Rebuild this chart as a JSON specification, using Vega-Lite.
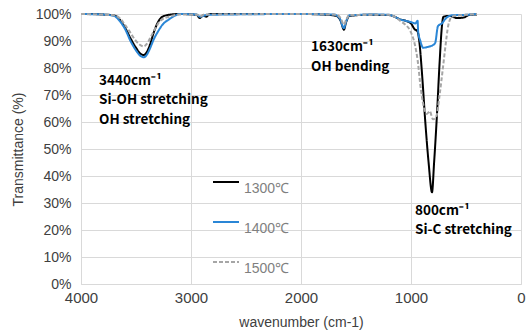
{
  "$schema": "https://vega.github.io/schema/vega-lite/v6.json",
  "width": 440,
  "height": 270,
  "autosize": {"type": "none"},
  "padding": {"left": 81, "top": 14, "right": 7, "bottom": 49},
  "background": "white",
  "config": {
    "view": {"stroke": null},
    "font": "Liberation Sans"
  },
  "datasets": {
    "spectra": [
      {"wn": 4000, "T": 1.0, "s": "1300℃"}, {"wn": 3900, "T": 1.0, "s": "1300℃"}, {"wn": 3800, "T": 0.998, "s": "1300℃"}, {"wn": 3700, "T": 0.995, "s": "1300℃"}, {"wn": 3650, "T": 0.98, "s": "1300℃"}, {"wn": 3600, "T": 0.95, "s": "1300℃"}, {"wn": 3550, "T": 0.91, "s": "1300℃"}, {"wn": 3500, "T": 0.875, "s": "1300℃"}, {"wn": 3460, "T": 0.853, "s": "1300℃"}, {"wn": 3430, "T": 0.848, "s": "1300℃"}, {"wn": 3400, "T": 0.86, "s": "1300℃"}, {"wn": 3370, "T": 0.89, "s": "1300℃"}, {"wn": 3340, "T": 0.93, "s": "1300℃"}, {"wn": 3300, "T": 0.97, "s": "1300℃"}, {"wn": 3260, "T": 0.99, "s": "1300℃"}, {"wn": 3200, "T": 0.997, "s": "1300℃"}, {"wn": 3100, "T": 1.0, "s": "1300℃"}, {"wn": 2950, "T": 0.997, "s": "1300℃"}, {"wn": 2920, "T": 0.985, "s": "1300℃"}, {"wn": 2890, "T": 0.995, "s": "1300℃"}, {"wn": 2860, "T": 0.99, "s": "1300℃"}, {"wn": 2830, "T": 1.0, "s": "1300℃"}, {"wn": 2000, "T": 1.0, "s": "1300℃"}, {"wn": 1800, "T": 0.998, "s": "1300℃"}, {"wn": 1680, "T": 0.993, "s": "1300℃"}, {"wn": 1640, "T": 0.975, "s": "1300℃"}, {"wn": 1610, "T": 0.942, "s": "1300℃"}, {"wn": 1590, "T": 0.97, "s": "1300℃"}, {"wn": 1560, "T": 0.993, "s": "1300℃"}, {"wn": 1400, "T": 0.997, "s": "1300℃"}, {"wn": 1200, "T": 0.996, "s": "1300℃"}, {"wn": 1150, "T": 0.99, "s": "1300℃"}, {"wn": 1100, "T": 0.98, "s": "1300℃"}, {"wn": 1050, "T": 0.975, "s": "1300℃"}, {"wn": 1000, "T": 0.965, "s": "1300℃"}, {"wn": 970, "T": 0.945, "s": "1300℃"}, {"wn": 940, "T": 0.935, "s": "1300℃"}, {"wn": 925, "T": 0.9, "s": "1300℃"}, {"wn": 900, "T": 0.78, "s": "1300℃"}, {"wn": 870, "T": 0.6, "s": "1300℃"}, {"wn": 840, "T": 0.45, "s": "1300℃"}, {"wn": 809, "T": 0.34, "s": "1300℃"}, {"wn": 790, "T": 0.45, "s": "1300℃"}, {"wn": 765, "T": 0.62, "s": "1300℃"}, {"wn": 740, "T": 0.82, "s": "1300℃"}, {"wn": 720, "T": 0.95, "s": "1300℃"}, {"wn": 705, "T": 0.99, "s": "1300℃"}, {"wn": 650, "T": 0.993, "s": "1300℃"}, {"wn": 580, "T": 0.985, "s": "1300℃"}, {"wn": 520, "T": 0.987, "s": "1300℃"}, {"wn": 470, "T": 0.997, "s": "1300℃"}, {"wn": 400, "T": 0.998, "s": "1300℃"},

      {"wn": 4000, "T": 1.0, "s": "1400℃"}, {"wn": 3800, "T": 0.998, "s": "1400℃"}, {"wn": 3700, "T": 0.993, "s": "1400℃"}, {"wn": 3650, "T": 0.975, "s": "1400℃"}, {"wn": 3600, "T": 0.945, "s": "1400℃"}, {"wn": 3550, "T": 0.9, "s": "1400℃"}, {"wn": 3500, "T": 0.865, "s": "1400℃"}, {"wn": 3460, "T": 0.845, "s": "1400℃"}, {"wn": 3430, "T": 0.84, "s": "1400℃"}, {"wn": 3400, "T": 0.85, "s": "1400℃"}, {"wn": 3370, "T": 0.875, "s": "1400℃"}, {"wn": 3340, "T": 0.905, "s": "1400℃"}, {"wn": 3300, "T": 0.935, "s": "1400℃"}, {"wn": 3260, "T": 0.96, "s": "1400℃"}, {"wn": 3200, "T": 0.98, "s": "1400℃"}, {"wn": 3150, "T": 0.993, "s": "1400℃"}, {"wn": 3100, "T": 1.0, "s": "1400℃"}, {"wn": 2950, "T": 0.998, "s": "1400℃"}, {"wn": 2920, "T": 0.99, "s": "1400℃"}, {"wn": 2850, "T": 0.997, "s": "1400℃"}, {"wn": 2000, "T": 1.0, "s": "1400℃"}, {"wn": 1700, "T": 0.998, "s": "1400℃"}, {"wn": 1650, "T": 0.985, "s": "1400℃"}, {"wn": 1610, "T": 0.948, "s": "1400℃"}, {"wn": 1590, "T": 0.972, "s": "1400℃"}, {"wn": 1560, "T": 0.995, "s": "1400℃"}, {"wn": 1300, "T": 0.998, "s": "1400℃"}, {"wn": 1200, "T": 0.997, "s": "1400℃"}, {"wn": 1150, "T": 0.99, "s": "1400℃"}, {"wn": 1100, "T": 0.98, "s": "1400℃"}, {"wn": 1050, "T": 0.975, "s": "1400℃"}, {"wn": 1000, "T": 0.97, "s": "1400℃"}, {"wn": 960, "T": 0.965, "s": "1400℃"}, {"wn": 940, "T": 0.975, "s": "1400℃"}, {"wn": 935, "T": 0.935, "s": "1400℃"}, {"wn": 915, "T": 0.9, "s": "1400℃"}, {"wn": 890, "T": 0.875, "s": "1400℃"}, {"wn": 850, "T": 0.878, "s": "1400℃"}, {"wn": 800, "T": 0.885, "s": "1400℃"}, {"wn": 780, "T": 0.893, "s": "1400℃"}, {"wn": 755, "T": 0.955, "s": "1400℃"}, {"wn": 720, "T": 0.965, "s": "1400℃"}, {"wn": 680, "T": 0.985, "s": "1400℃"}, {"wn": 630, "T": 0.995, "s": "1400℃"}, {"wn": 500, "T": 0.997, "s": "1400℃"}, {"wn": 400, "T": 1.0, "s": "1400℃"},

      {"wn": 4000, "T": 1.0, "s": "1500℃"}, {"wn": 3700, "T": 0.995, "s": "1500℃"}, {"wn": 3650, "T": 0.985, "s": "1500℃"}, {"wn": 3600, "T": 0.96, "s": "1500℃"}, {"wn": 3550, "T": 0.93, "s": "1500℃"}, {"wn": 3500, "T": 0.9, "s": "1500℃"}, {"wn": 3460, "T": 0.885, "s": "1500℃"}, {"wn": 3430, "T": 0.88, "s": "1500℃"}, {"wn": 3400, "T": 0.89, "s": "1500℃"}, {"wn": 3360, "T": 0.92, "s": "1500℃"}, {"wn": 3320, "T": 0.95, "s": "1500℃"}, {"wn": 3280, "T": 0.975, "s": "1500℃"}, {"wn": 3200, "T": 0.99, "s": "1500℃"}, {"wn": 3100, "T": 0.998, "s": "1500℃"}, {"wn": 2940, "T": 0.997, "s": "1500℃"}, {"wn": 2920, "T": 0.99, "s": "1500℃"}, {"wn": 2880, "T": 0.998, "s": "1500℃"}, {"wn": 2000, "T": 1.0, "s": "1500℃"}, {"wn": 1680, "T": 0.997, "s": "1500℃"}, {"wn": 1640, "T": 0.985, "s": "1500℃"}, {"wn": 1610, "T": 0.96, "s": "1500℃"}, {"wn": 1590, "T": 0.978, "s": "1500℃"}, {"wn": 1560, "T": 0.996, "s": "1500℃"}, {"wn": 1200, "T": 0.997, "s": "1500℃"}, {"wn": 1150, "T": 0.99, "s": "1500℃"}, {"wn": 1100, "T": 0.975, "s": "1500℃"}, {"wn": 1050, "T": 0.96, "s": "1500℃"}, {"wn": 1010, "T": 0.94, "s": "1500℃"}, {"wn": 964, "T": 0.885, "s": "1500℃"}, {"wn": 940, "T": 0.83, "s": "1500℃"}, {"wn": 910, "T": 0.72, "s": "1500℃"}, {"wn": 880, "T": 0.65, "s": "1500℃"}, {"wn": 855, "T": 0.63, "s": "1500℃"}, {"wn": 830, "T": 0.64, "s": "1500℃"}, {"wn": 800, "T": 0.61, "s": "1500℃"}, {"wn": 770, "T": 0.62, "s": "1500℃"}, {"wn": 740, "T": 0.7, "s": "1500℃"}, {"wn": 710, "T": 0.8, "s": "1500℃"}, {"wn": 690, "T": 0.87, "s": "1500℃"}, {"wn": 660, "T": 0.96, "s": "1500℃"}, {"wn": 627, "T": 0.99, "s": "1500℃"}, {"wn": 550, "T": 0.995, "s": "1500℃"}, {"wn": 400, "T": 1.0, "s": "1500℃"}
    ],
    "notes": [
      {"wn": 3836, "T": 0.752, "label": "3440cm⁻¹"},
      {"wn": 3836, "T": 0.680, "label": "Si-OH stretching"},
      {"wn": 3836, "T": 0.608, "label": "OH stretching"},
      {"wn": 1909, "T": 0.876, "label": "1630cm⁻¹"},
      {"wn": 1909, "T": 0.804, "label": "OH bending"},
      {"wn": 964, "T": 0.272, "label": "800cm⁻¹"},
      {"wn": 964, "T": 0.2, "label": "Si-C stretching"}
    ]
  },
  "encoding": {
    "x": {
      "field": "wn", "type": "quantitative",
      "scale": {"domain": [0, 4000], "reverse": true, "nice": false},
      "axis": {
        "values": [0, 1000, 2000, 3000, 4000],
        "tickCount": 20,
        "format": "d",
        "labelFlush": false, "labelOverlap": false,
        "title": "wavenumber (cm-1)",
        "titleFont": "Liberation Sans", "titleFontSize": 14, "titleFontWeight": "normal", "titleColor": "#404040", "titlePadding": 10,
        "labelFont": "Liberation Sans", "labelFontSize": 15, "labelColor": "#404040", "labelPadding": 6,
        "ticks": false, "domainColor": "#d9d9d9", "gridColor": "#d9d9d9", "grid": true
      }
    },
    "y": {
      "field": "T", "type": "quantitative",
      "scale": {"domain": [0, 1], "nice": false},
      "axis": {
        "values": [0, 0.1, 0.2, 0.3, 0.4, 0.5, 0.6, 0.7, 0.8, 0.9, 1],
        "tickCount": 20,
        "format": ".0%",
        "labelFlush": false, "labelOverlap": false,
        "title": "Transmittance (%)",
        "titleFont": "Liberation Sans", "titleFontSize": 14, "titleFontWeight": "normal", "titleColor": "#404040", "titlePadding": 10,
        "labelFont": "Liberation Sans", "labelFontSize": 14, "labelColor": "#404040", "labelPadding": 10,
        "ticks": false, "domainColor": "#d9d9d9", "gridColor": "#d9d9d9", "grid": true
      }
    }
  },
  "layer": [
    {
      "data": {"name": "spectra"},
      "mark": {"type": "line", "strokeWidth": 2, "interpolate": "monotone"},
      "encoding": {
        "color": {
          "field": "s", "type": "nominal",
          "scale": {"domain": ["1300℃", "1400℃", "1500℃"], "range": ["#000000", "#2a86d6", "#a6a6a6"]},
          "legend": {
            "title": null, "orient": "none", "legendX": 131, "legendY": 154,
            "symbolType": "stroke", "symbolSize": 676, "symbolStrokeWidth": 2,
            "labelFont": "Liberation Sans", "labelFontSize": 14, "labelColor": "#7f7f7f", "labelOffset": 4,
            "labelBaseline": "top",
            "rowPadding": 12
          }
        },
        "strokeDash": {
          "field": "s", "type": "nominal",
          "scale": {"domain": ["1300℃", "1400℃", "1500℃"], "range": [[1, 0], [1, 0], [4, 2]]},
          "legend": {
            "title": null, "orient": "none", "legendX": 131, "legendY": 154,
            "symbolType": "stroke", "symbolSize": 676, "symbolStrokeWidth": 2,
            "labelFont": "Liberation Sans", "labelFontSize": 14, "labelColor": "#7f7f7f", "labelOffset": 4,
            "labelBaseline": "top",
            "rowPadding": 12
          }
        },
        "order": {"field": "s"}
      }
    },
    {
      "data": {"name": "notes"},
      "mark": {"type": "text", "align": "left", "baseline": "middle", "font": "Noto Sans CJK KR", "fontWeight": "bold", "fontSize": 13.5, "color": "#000000"},
      "encoding": {
        "text": {"field": "label", "type": "nominal"}
      }
    }
  ]
}
